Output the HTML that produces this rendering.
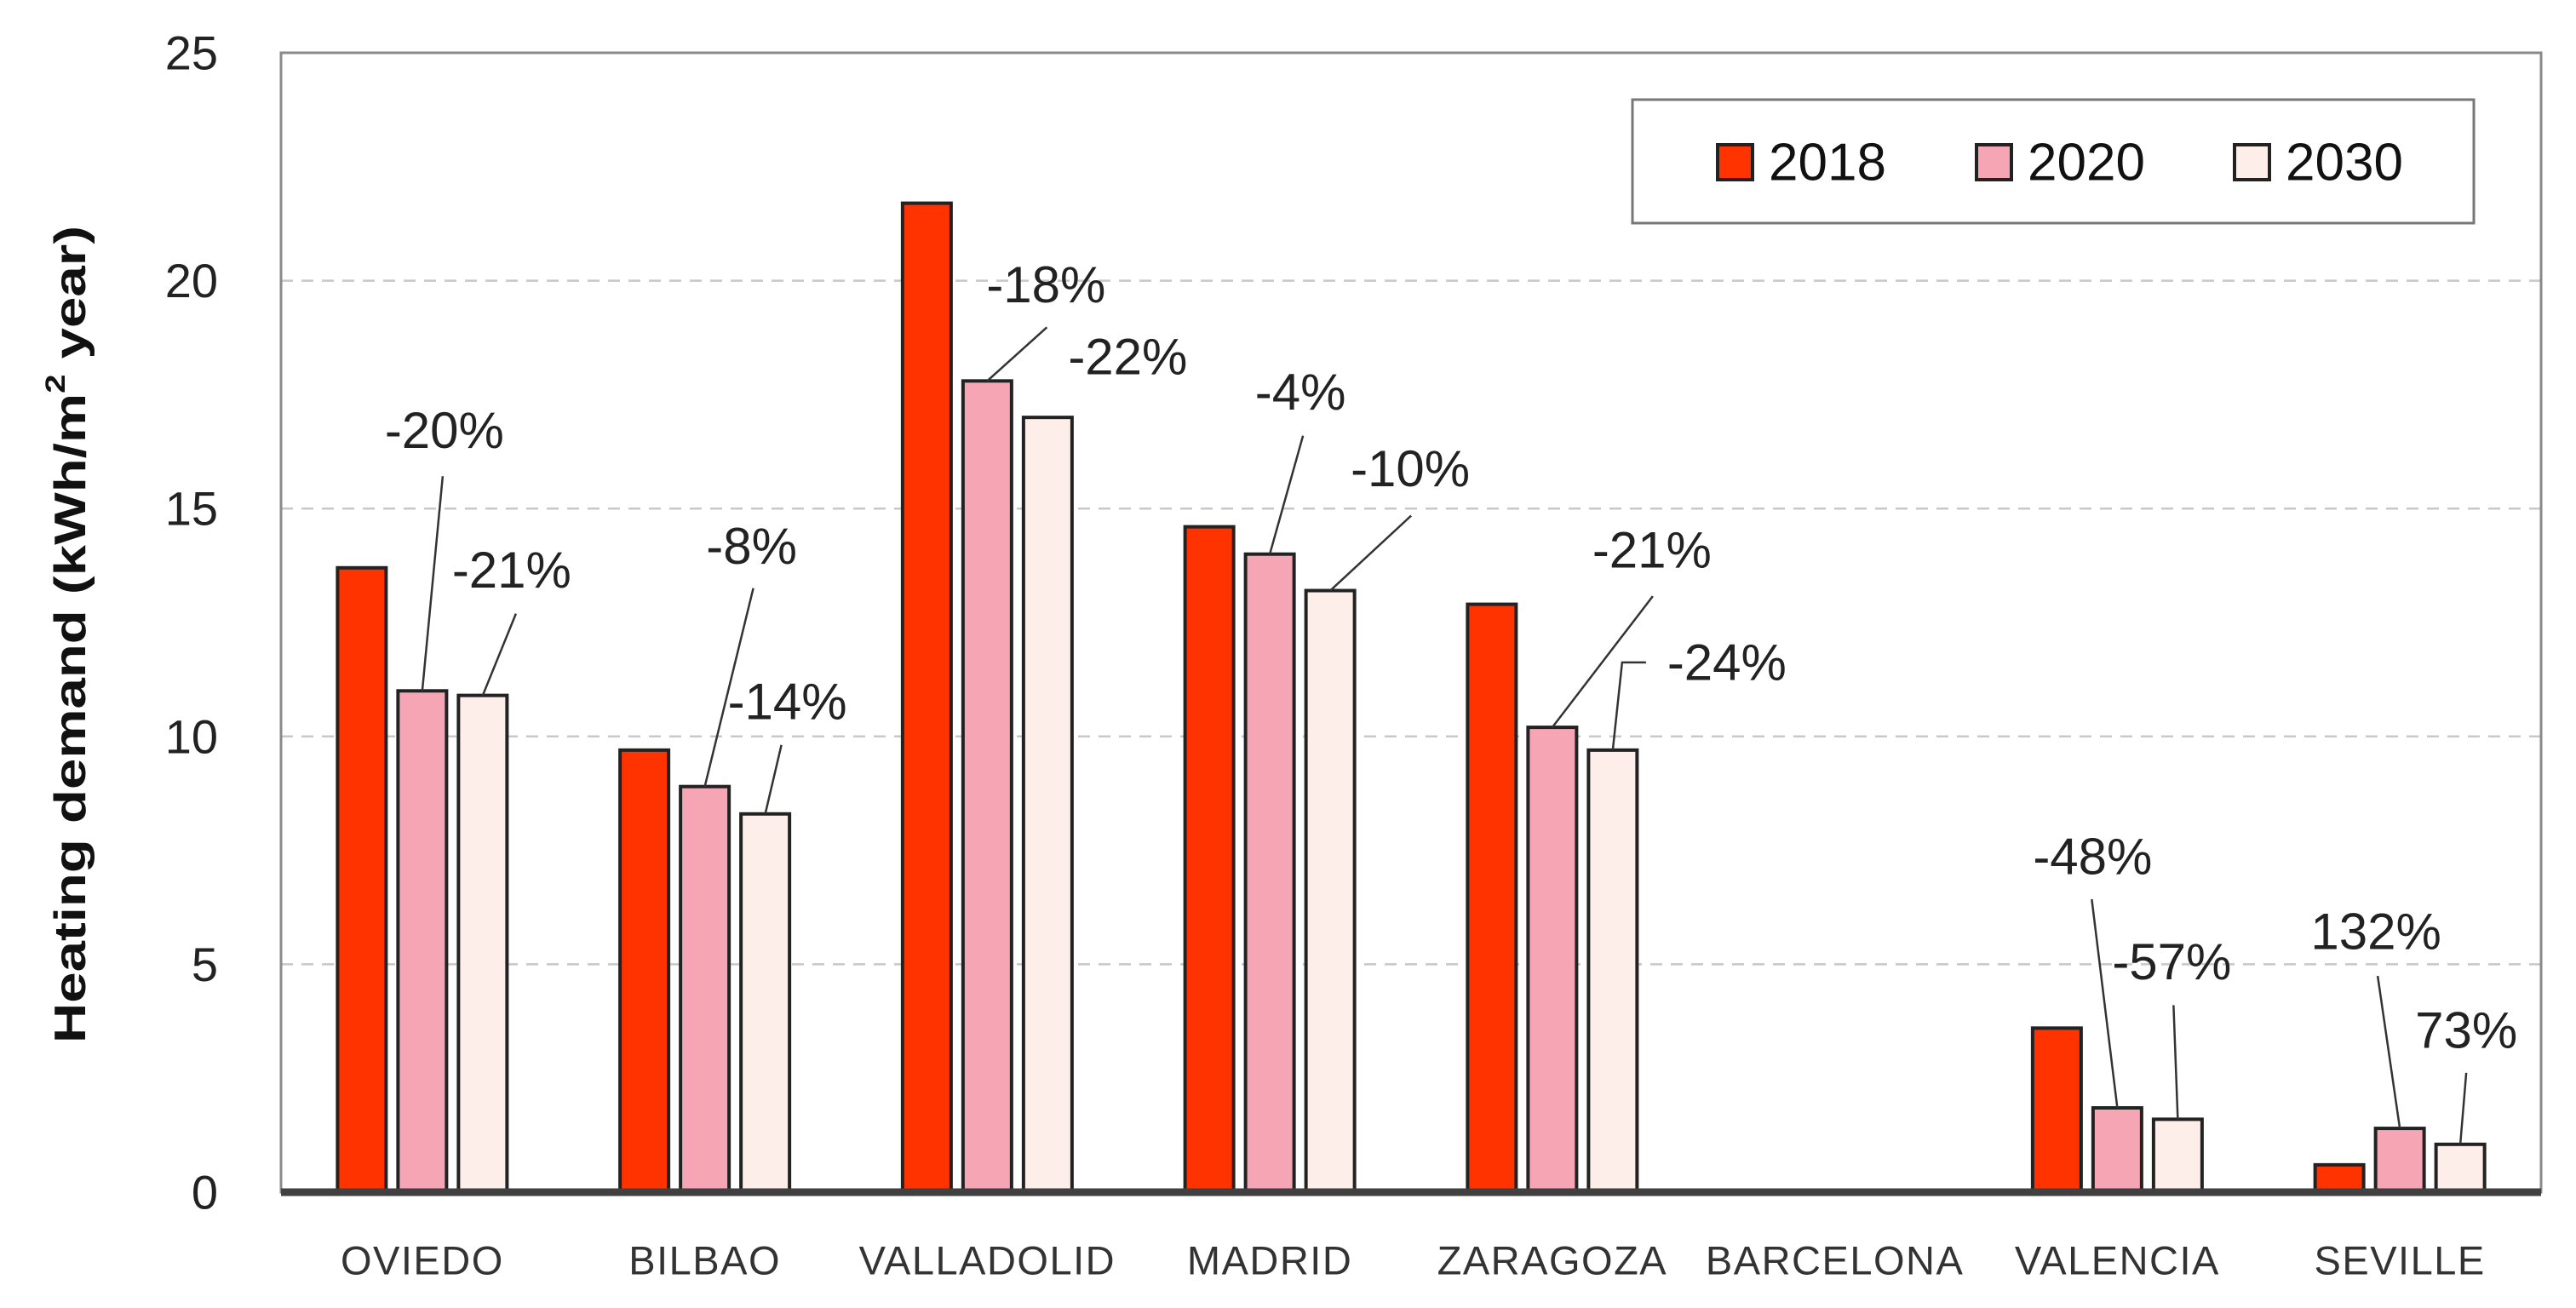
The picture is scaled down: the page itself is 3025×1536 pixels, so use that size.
<!DOCTYPE html>
<html><head><meta charset="utf-8"><style>
html,body{margin:0;padding:0;background:#fff;}
svg{display:block;}
text{font-family:"Liberation Sans",sans-serif;}
</style></head><body>
<svg id="chart" width="3025" height="1536" viewBox="0 0 3025 1536" xmlns="http://www.w3.org/2000/svg">
<rect x="0" y="0" width="3025" height="1536" fill="#fff"/>
<g id="grid"></g>
<g id="bars"></g>
<g id="annots"></g>
<g id="axes"></g>
<g id="legend"></g>
</svg>
<script>
const categories = ["OVIEDO","BILBAO","VALLADOLID","MADRID","ZARAGOZA","BARCELONA","VALENCIA","SEVILLE"];
const seriesNames = ["2018","2020","2030"];
const values2018 = [13.7, 9.7, 21.7, 14.6, 12.9, 0, 3.6, 0.6];
const values2020 = [11.0, 8.9, 17.8, 14.0, 10.2, 0, 1.85, 1.4];
const values2030 = [10.9, 8.3, 17.0, 13.2, 9.7, 0, 1.6, 1.05];
const yTicks = [0, 5, 10, 15, 20, 25];
const annotLabels = ["-20%","-21%","-8%","-14%","-18%","-22%","-4%","-10%","-21%","-24%","-48%","-57%","132%","73%"];
const annotCats = [0,0,1,1,2,2,3,3,4,4,6,6,7,7];
const annotSeries = [1,2,1,2,1,2,1,2,1,2,1,2,1,2];

const NS = "http://www.w3.org/2000/svg";
const series = [values2018, values2020, values2030];
const colors = ["#ff3300", "#f6a5b5", "#fdeeea"];
const L = 330, R = 2984, T = 62, B = 1400, yMax = 25;
const band = (R - L) / categories.length;
const barW = 57, barStep = 71;
function yScale(v){ return B - v * (B - T) / yMax; }
function xCat(i){ return L + band * (i + 0.5); }
function xBar(i, s){ return xCat(i) + (s - 1) * barStep; }
function mk(tag, attrs, parent){
  const e = document.createElementNS(NS, tag);
  for (const k in attrs) e.setAttribute(k, attrs[k]);
  parent.appendChild(e); return e;
}
const grid = document.getElementById('grid');
const barsG = document.getElementById('bars');
const annG = document.getElementById('annots');
const axes = document.getElementById('axes');
const legend = document.getElementById('legend');

yTicks.forEach(t => {
  if (t > 0 && t < yMax) {
    const g = mk('line', {x1:L, x2:R, y1:yScale(t), y2:yScale(t), stroke:'#c8c8c8', 'stroke-width':2.5, 'stroke-dasharray':'14 10'}, grid);
    
    
  }
  const tl = mk('text', {x:256, y:yScale(t), 'text-anchor':'end', 'dominant-baseline':'central', 'font-size':56, fill:'#222'}, axes);
  tl.textContent = t;
  
  
});

const border = mk('rect', {x:L, y:T, width:R-L, height:B-T, fill:'none', stroke:'#8a8a8a', 'stroke-width':3}, axes);



series.forEach((vals, s) => {
  vals.forEach((v, i) => {
    if (v <= 0) return;
    const x = xBar(i, s) - barW / 2, y = yScale(v);
    const r = mk('rect', {x:x, y:y, width:barW, height:B - y, fill:colors[s], stroke:'#222', 'stroke-width':4}, barsG);
    
    
  });
});

const xa = mk('line', {x1:L, x2:R, y1:B, y2:B, stroke:'#404040', 'stroke-width':9}, axes);



categories.forEach((c, i) => {
  const t = mk('text', {x:xCat(i), y:1480, 'text-anchor':'middle', 'dominant-baseline':'central', 'font-size':47, fill:'#333', 'letter-spacing':1.5}, axes);
  t.textContent = c;
  
  
});

const yt = mk('text', {transform:'translate(83,745) rotate(-90)', 'text-anchor':'middle', 'dominant-baseline':'central', 'font-size':52, 'font-weight':'bold', fill:'#111', textLength:960, lengthAdjust:'spacingAndGlyphs'}, axes);
yt.innerHTML = 'Heating demand (kWh/m<tspan dy="-18" font-size="32">2</tspan><tspan dy="18"> year)</tspan>';



// annotation layout offsets relative to bar top: [text dx, text dy, leader start dx, leader start dy]
const annLayout = [
  [26,-306, 24,-252], [34,-147, 39,-96], [55,-282, 57,-233], [26,-132, 19,-81],
  [69,-113, 70,-63], [94,-71, null,null], [36,-190, 39,-139], [94,-143, 95,-88],
  [117,-208, 118,-154], [134,-103, null,null], [-29,-295, -30,-245], [-7,-185, -5,-134],
  [-28,-231, -26,-179], [7,-134, 7,-84]
];
annotLabels.forEach((lab, k) => {
  const i = annotCats[k], s = annotSeries[k];
  const bx = xBar(i, s), by = yScale(series[s][i]);
  const [tdx, tdy, ldx, ldy] = annLayout[k];
  const tx = bx + tdx, ty = by + tdy;
  if (ldx !== null) {
    const ln = mk('line', {x1:bx + ldx, y1:by + ldy, x2:bx, y2:by, stroke:'#333', 'stroke-width':2.5}, annG);
    
    
  } else if (k === 9) {
    const p = mk('polyline', {points:(tx-95)+','+ty+' '+(tx-123)+','+ty+' '+bx+','+by, fill:'none', stroke:'#333', 'stroke-width':2.5}, annG);
    
    
  }
  const t = mk('text', {x:tx, y:ty, 'text-anchor':'middle', 'dominant-baseline':'central', 'font-size':60, fill:'#222'}, annG);
  t.textContent = lab;
  
  
});

const lb = mk('rect', {x:1917, y:117, width:988, height:145, fill:'#fff', stroke:'#777', 'stroke-width':3}, legend);


const legX = [2017, 2321, 2624];
seriesNames.forEach((n, s) => {
  const sw = mk('rect', {x:legX[s], y:170, width:41, height:41, fill:colors[s], stroke:'#222', 'stroke-width':4}, legend);
  
  
  const t = mk('text', {x:legX[s] + 60, y:191, 'dominant-baseline':'central', 'font-size':62, fill:'#111'}, legend);
  t.textContent = n;
  
  
});
</script>
</body></html>
